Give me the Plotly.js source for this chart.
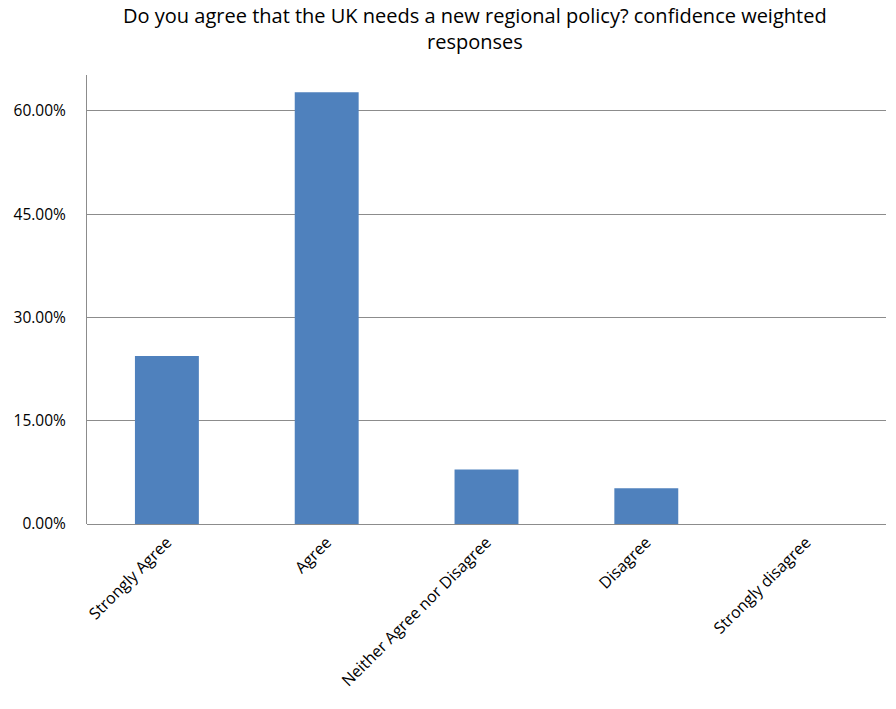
<!DOCTYPE html>
<html>
<head>
<meta charset="utf-8">
<script src="https://cdn.plot.ly/plotly-3.0.1.min.js"></script>
<style>body{margin:0;background:#fff;}#chart{width:896px;height:709px;}</style>
</head>
<body>
<div id="chart"></div>
<script>
const categories = ["Strongly Agree", "Agree", "Neither Agree nor Disagree", "Disagree", "Strongly disagree"];
const values = [0.244, 0.627, 0.079, 0.052, 0.0];
const yTicks = [0, 0.15, 0.30, 0.45, 0.60];
const yTickLabels = ["0.00%", "15.00%", "30.00%", "45.00%", "60.00%"];
const titleText = "Do you agree that the UK needs a new regional policy? confidence weighted<br>responses";

const font = "Open Sans, sans-serif";

Plotly.newPlot("chart", [{
  type: "bar",
  x: categories,
  y: values,
  marker: {color: "#4F81BD"},
  hoverinfo: "none"
}], {
  width: 896, height: 709,
  margin: {l: 87, r: 10, t: 75, b: 185},
  paper_bgcolor: "#fff", plot_bgcolor: "#fff",
  bargap: 0.6,
  showlegend: false,
  title: {
    text: titleText,
    x: 0.53, xanchor: "center",
    yref: "container",
    y: 0.967, yanchor: "top",
    font: {family: font, size: 20, color: "#000"}
  },
  xaxis: {
    type: "category",
    tickangle: -45,
    tickfont: {family: font, size: 16, color: "#000"},
    showline: false,
    ticks: "",
    showgrid: false,
    zeroline: false,
    ticklabelstandoff: 5
  },
  yaxis: {
    range: [0, 0.652],
    tickvals: yTicks,
    ticktext: yTickLabels,
    tickfont: {family: font, size: 15.5, color: "#000"},
    showgrid: true,
    gridcolor: "#8c8c8c",
    gridwidth: 1,
    showline: true,
    linecolor: "#8c8c8c",
    linewidth: 1,
    zeroline: true,
    zerolinecolor: "#8c8c8c",
    zerolinewidth: 1,
    ticks: "",
    ticklen: 0,
    ticklabelstandoff: 17
  }
}, {displayModeBar: false, staticPlot: true});
</script>
</body>
</html>
